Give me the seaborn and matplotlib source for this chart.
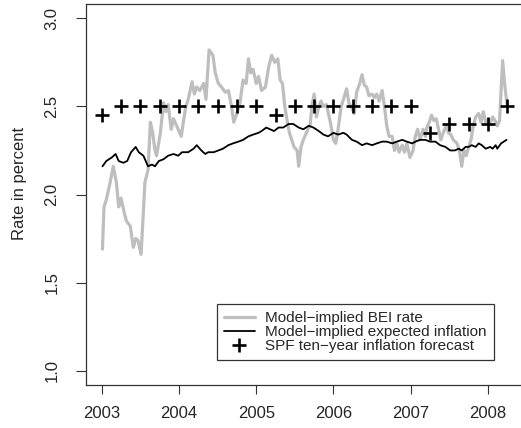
import numpy as np
import pandas as pd
import matplotlib
matplotlib.use("Agg")
import matplotlib.pyplot as plt
import seaborn as sns
from matplotlib.lines import Line2D

# ---- data ----
bei_t = [2003.01, 2003.03, 2003.06, 2003.11, 2003.15, 2003.19, 2003.22, 2003.25, 2003.29, 2003.32,
         2003.37, 2003.41, 2003.44, 2003.47, 2003.51, 2003.54, 2003.56, 2003.60, 2003.63, 2003.66,
         2003.69, 2003.71, 2003.76, 2003.80, 2003.83, 2003.86, 2003.90, 2003.93, 2003.97, 2004.03,
         2004.06, 2004.09, 2004.12, 2004.17, 2004.20, 2004.23, 2004.27, 2004.32, 2004.35, 2004.39,
         2004.44, 2004.47, 2004.51, 2004.55, 2004.60, 2004.64, 2004.68, 2004.71, 2004.75, 2004.79,
         2004.83, 2004.87, 2004.90, 2004.93, 2004.96, 2005.00, 2005.03, 2005.07, 2005.12, 2005.16,
         2005.20, 2005.24, 2005.28, 2005.31, 2005.34, 2005.37, 2005.40, 2005.43, 2005.46, 2005.49,
         2005.53, 2005.55, 2005.58, 2005.61, 2005.65, 2005.70, 2005.72, 2005.75, 2005.78, 2005.81,
         2005.84, 2005.87, 2005.91, 2005.96, 2006.00, 2006.03, 2006.06, 2006.10, 2006.13, 2006.17,
         2006.20, 2006.25, 2006.27, 2006.30, 2006.34, 2006.37, 2006.40, 2006.43, 2006.46, 2006.50,
         2006.53, 2006.56, 2006.59, 2006.63, 2006.66, 2006.69, 2006.72, 2006.76, 2006.79, 2006.82,
         2006.85, 2006.89, 2006.92, 2006.95, 2006.99, 2007.03, 2007.06, 2007.09, 2007.12, 2007.16,
         2007.19, 2007.21, 2007.24, 2007.27, 2007.30, 2007.33, 2007.36, 2007.39, 2007.42, 2007.46,
         2007.49, 2007.52, 2007.55, 2007.60, 2007.63, 2007.66, 2007.69, 2007.72, 2007.75, 2007.78,
         2007.81, 2007.84, 2007.88, 2007.91, 2007.94, 2007.97, 2008.00, 2008.03, 2008.06, 2008.09,
         2008.12, 2008.15, 2008.17, 2008.19, 2008.22, 2008.25]
bei_v = [1.69, 1.93, 1.97, 2.07, 2.16, 2.07, 1.93, 1.98, 1.90, 1.85,
         1.82, 1.70, 1.75, 1.74, 1.66, 1.90, 2.07, 2.14, 2.41, 2.35,
         2.25, 2.22, 2.35, 2.52, 2.47, 2.51, 2.37, 2.43, 2.39, 2.33,
         2.42, 2.50, 2.54, 2.64, 2.57, 2.61, 2.59, 2.63, 2.54, 2.82,
         2.79, 2.69, 2.63, 2.61, 2.58, 2.59, 2.50, 2.41, 2.46, 2.52,
         2.65, 2.63, 2.77, 2.69, 2.71, 2.63, 2.67, 2.59, 2.61, 2.72,
         2.79, 2.75, 2.77, 2.65, 2.63, 2.50, 2.42, 2.35, 2.31, 2.27,
         2.25, 2.16, 2.27, 2.31, 2.35, 2.40, 2.50, 2.57, 2.44, 2.50,
         2.53, 2.50, 2.51, 2.41, 2.31, 2.29, 2.37, 2.50, 2.54, 2.60,
         2.52, 2.48, 2.46, 2.58, 2.63, 2.68, 2.62, 2.61, 2.56, 2.57,
         2.55, 2.57, 2.53, 2.59, 2.50, 2.39, 2.33, 2.33, 2.25, 2.29,
         2.24, 2.28, 2.24, 2.29, 2.21, 2.25, 2.33, 2.37, 2.31, 2.37,
         2.33, 2.38, 2.41, 2.45, 2.42, 2.43, 2.37, 2.31, 2.35, 2.39,
         2.35, 2.34, 2.31, 2.29, 2.25, 2.16, 2.25, 2.22, 2.27, 2.31,
         2.39, 2.44, 2.46, 2.41, 2.47, 2.41, 2.42, 2.41, 2.44, 2.42,
         2.39, 2.42, 2.59, 2.76, 2.61, 2.50]

exp_t = [2003.01, 2003.06, 2003.13, 2003.18, 2003.22, 2003.28, 2003.33, 2003.38, 2003.44, 2003.48,
         2003.54, 2003.60, 2003.65, 2003.69, 2003.74, 2003.80, 2003.86, 2003.93, 2003.99, 2004.04,
         2004.12, 2004.19, 2004.23, 2004.29, 2004.34, 2004.38, 2004.45, 2004.51, 2004.57, 2004.64,
         2004.70, 2004.77, 2004.83, 2004.90, 2004.96, 2005.03, 2005.07, 2005.13, 2005.18, 2005.23,
         2005.29, 2005.35, 2005.42, 2005.48, 2005.55, 2005.61, 2005.68, 2005.74, 2005.81, 2005.87,
         2005.93, 2006.00, 2006.06, 2006.13, 2006.17, 2006.24, 2006.30, 2006.37, 2006.43, 2006.50,
         2006.56, 2006.63, 2006.69, 2006.76, 2006.82, 2006.89, 2006.95, 2007.02, 2007.06, 2007.12,
         2007.19, 2007.25, 2007.32, 2007.38, 2007.45, 2007.51, 2007.57, 2007.62, 2007.66, 2007.71,
         2007.75, 2007.79, 2007.84, 2007.88, 2007.92, 2007.97, 2008.03, 2008.06, 2008.10, 2008.12,
         2008.17, 2008.24]
exp_v = [2.16, 2.19, 2.21, 2.23, 2.19, 2.18, 2.19, 2.24, 2.27, 2.24,
         2.22, 2.16, 2.17, 2.16, 2.19, 2.20, 2.22, 2.23, 2.22, 2.24,
         2.24, 2.26, 2.28, 2.25, 2.23, 2.24, 2.24, 2.25, 2.26, 2.28,
         2.29, 2.30, 2.31, 2.33, 2.34, 2.35, 2.36, 2.38, 2.37, 2.36,
         2.38, 2.38, 2.40, 2.40, 2.38, 2.37, 2.39, 2.38, 2.36, 2.34,
         2.33, 2.35, 2.34, 2.35, 2.34, 2.31, 2.30, 2.28, 2.29, 2.28,
         2.29, 2.30, 2.30, 2.29, 2.30, 2.31, 2.30, 2.29, 2.30, 2.31,
         2.31, 2.30, 2.30, 2.28, 2.27, 2.25, 2.25, 2.26, 2.25, 2.27,
         2.27, 2.28, 2.27, 2.29, 2.28, 2.26, 2.27, 2.26, 2.28, 2.26,
         2.29, 2.31]

spf_t = [2003.00, 2003.25, 2003.50, 2003.75, 2004.00, 2004.25, 2004.50, 2004.75, 2005.00, 2005.25, 2005.50,
         2005.75, 2006.00, 2006.25, 2006.50, 2006.75, 2007.00, 2007.25, 2007.50, 2007.75, 2008.00, 2008.25]
spf_v = [2.45, 2.50, 2.50, 2.50, 2.50, 2.50, 2.50, 2.50, 2.50, 2.45, 2.50,
         2.50, 2.50, 2.50, 2.50, 2.50, 2.50, 2.35, 2.40, 2.40, 2.40, 2.50]

x_ticks = [2003, 2004, 2005, 2006, 2007, 2008]
y_ticks = [1.0, 1.5, 2.0, 2.5, 3.0]
labels = ["Model\u2212implied BEI rate",
          "Model\u2212implied expected inflation",
          "SPF ten\u2212year inflation forecast"]

# ---- style ----
sns.set_style("white")
plt.rcParams['font.family'] = ['Liberation Sans', 'DejaVu Sans']
plt.rcParams['axes.unicode_minus'] = True

fig = plt.figure(figsize=(5.21, 4.28), dpi=100)
ax = fig.add_axes([86/521, 43/428, 437.5/521, 381/428])

bei = pd.DataFrame({"t": bei_t, "v": bei_v})
exp_ = pd.DataFrame({"t": exp_t, "v": exp_v})
spf = pd.DataFrame({"t": spf_t, "v": spf_v})

sns.lineplot(data=bei, x="t", y="v", ax=ax, color="#bebebe", linewidth=2.3,
             estimator=None, sort=False)
sns.lineplot(data=exp_, x="t", y="v", ax=ax, color="black", linewidth=1.3,
             estimator=None, sort=False)
sns.scatterplot(data=spf, x="t", y="v", ax=ax, marker="+", s=90, color="black",
                linewidth=1.9, zorder=5)

ax.set_xlim(2002.797, 2008.46)
ax.set_ylim(0.919, 3.081)
ax.set_xticks(x_ticks)
ax.set_xticklabels([str(x) for x in x_ticks])
ax.set_yticks(y_ticks)
ax.set_yticklabels([f"{y:.1f}" for y in y_ticks])
ax.set_xlabel("")
ax.set_ylabel("Rate in percent", fontsize=12)
ax.yaxis.set_label_coords(-0.135, 0.53)

ax.tick_params(axis='x', direction='out', length=6.5, width=0.8, color='#333333',
               labelsize=12, pad=8.5, bottom=True)
ax.tick_params(axis='y', direction='out', length=7, width=0.8, color='#333333',
               labelsize=12, pad=12, labelrotation=90, left=True)
for lab in ax.get_yticklabels():
    lab.set_verticalalignment('center')

for sp in ax.spines.values():
    sp.set_color('#333333')
    sp.set_linewidth(0.9)

handles = [Line2D([], [], color="#bebebe", linewidth=2.3),
           Line2D([], [], color="black", linewidth=1.3),
           Line2D([], [], color="black", marker="+", linestyle="none",
                  markersize=9.5, markeredgewidth=1.9)]
leg = ax.legend(handles, labels, loc="lower left", bbox_to_anchor=(0.300, 0.066),
                fontsize=11, frameon=True, fancybox=False, framealpha=1,
                edgecolor="#333333", borderpad=0.45, labelspacing=0.0,
                handlelength=2.0, handletextpad=0.7, borderaxespad=0)
leg.get_frame().set_linewidth(0.9)

fig.savefig("out.png", dpi=100)
